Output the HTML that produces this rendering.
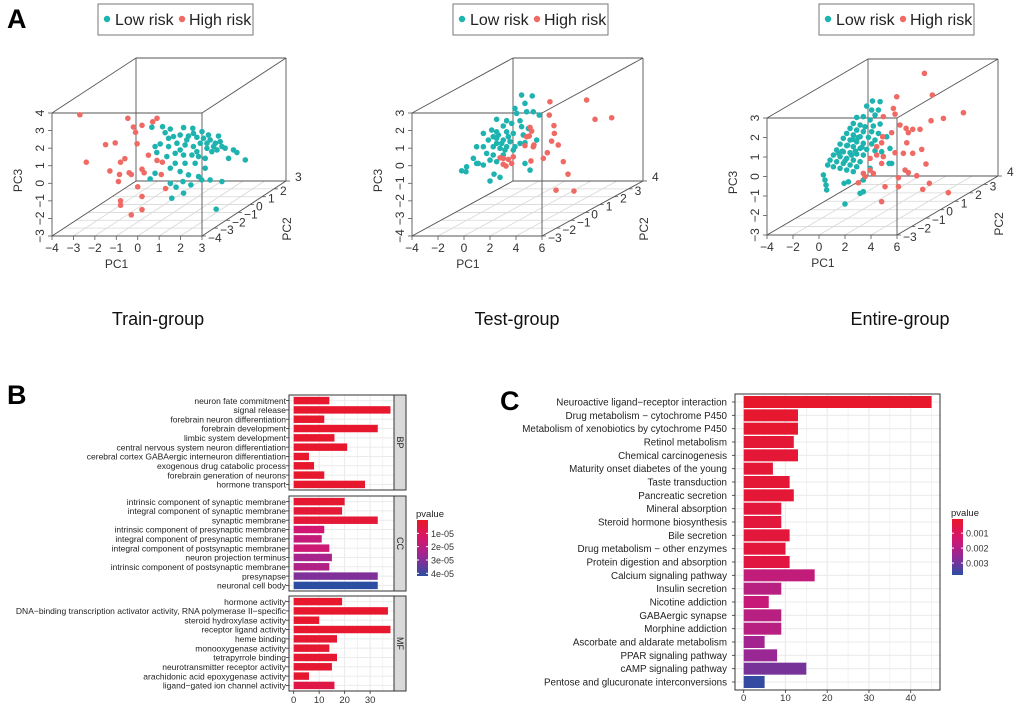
<!DOCTYPE html>
<html><head><meta charset="utf-8"><style>
html,body{margin:0;padding:0;background:#fff;}
svg{display:block;font-family:"Liberation Sans",Arial,sans-serif;}
</style></head><body>
<svg id="fig" width="1020" height="705" viewBox="0 0 1020 705" xmlns="http://www.w3.org/2000/svg"></svg>
<script>
// ---------- Panel A data (PC1, PC3 projected) ----------
const trainHigh = [[-2.7,3.9],[-0.46,3.7],[-0.2,3.2],[-0.1,2.9],[0.2,3.3],[0.7,3.5],[0.9,3.7],[-1.5,2.2],[-1.05,2.3],[-0.03,2.25],[-2.4,1.2],[-0.8,1.2],[-0.6,1.4],[0.5,1.6],[0.9,1.3],[1.15,1.2],[-1.3,0.7],[-0.85,0.5],[-0.4,0.6],[-0.3,0.5],[0.2,0.8],[0.3,0.6],[1.1,0.5],[-0.9,0.1],[0.0,-0.2],[1.3,-0.3],[0.2,-0.75],[-0.8,-1.0],[-0.8,-1.25],[0.2,-1.5],[-0.3,-1.8]];
const trainLow = [[0.66,3.19],[1.16,3.22],[1.52,3.09],[2.14,3.17],[2.57,3.13],[1.28,2.88],[1.67,2.66],[1.98,2.75],[2.37,2.69],[2.76,2.62],[3.0,2.94],[3.07,2.56],[3.38,2.47],[3.77,2.69],[3.85,2.37],[3.54,2.09],[3.23,1.99],[2.92,2.28],[2.6,2.09],[2.21,2.18],[1.83,2.28],[1.44,2.09],[0.81,2.09],[0.89,1.75],[1.36,1.52],[1.75,1.71],[2.14,1.61],[2.53,1.61],[2.84,1.52],[3.15,1.42],[3.7,1.9],[4.08,2.0],[4.24,1.42],[4.63,1.75],[5.02,1.33],[4.47,1.9],[3.46,1.8],[3.15,0.86],[2.68,1.14],[2.21,1.14],[1.75,1.14],[1.52,0.86],[1.98,0.67],[2.37,0.48],[2.84,0.38],[2.99,0.19],[3.38,0.19],[3.93,0.1],[0.58,0.25],[0.81,0.57],[1.52,0.0],[2.11,0.1],[2.48,-0.09],[1.79,-0.22],[2.14,-0.56],[1.59,-0.85],[3.66,-1.47],[1.05,2.24],[2.29,2.47],[3.23,2.28],[3.62,2.28],[3.93,2.09],[2.76,1.8],[1.98,1.9],[1.44,2.56],[2.6,2.84],[3.3,2.75]];
const testHigh = [[6.61,3.64],[9.43,3.74],[6.56,2.88],[6.92,2.28],[10.08,2.64],[11.36,2.73],[5.08,2.18],[5.2,1.97],[6.95,1.84],[5.02,1.69],[5.38,1.18],[6.74,1.4],[7.25,1.18],[6.41,0.74],[6.1,0.42],[5.15,0.27],[7.64,0.23],[8.0,-0.48],[7.08,-1.39],[8.46,-1.44],[2.77,0.45],[3.02,0.08],[3.41,0.36],[3.67,0.13],[3.02,0.42],[4.69,1.14],[4.82,1.65],[5.33,1.08],[3.79,0.51],[3.23,-0.02]];
const testLow = [[4.43,4.02],[5.25,3.97],[4.69,3.55],[3.92,3.26],[4.05,2.98],[4.82,3.07],[5.33,3.07],[5.79,2.88],[2.51,2.64],[3.28,2.56],[3.67,2.41],[3.02,2.26],[4.31,2.56],[4.43,2.22],[4.95,2.12],[2.13,2.03],[2.51,1.93],[3.28,1.93],[3.79,1.84],[4.56,1.75],[5.59,1.46],[1.49,1.84],[1.87,1.46],[2.51,1.56],[3.02,1.46],[3.54,1.37],[4.31,1.27],[4.69,1.31],[0.97,1.08],[1.49,1.08],[2.25,1.08],[2.77,0.99],[3.28,1.08],[3.79,0.89],[1.74,0.7],[2.25,0.61],[3.02,0.61],[0.72,0.42],[0.97,0.13],[1.49,0.04],[2.0,0.32],[2.51,0.23],[0.2,-0.06],[-0.18,-0.29],[0.15,-0.34],[1.1,0.13],[2.31,-0.48],[2.77,-0.66],[2.0,-0.87],[5.08,-0.25],[4.69,0.13],[2.64,1.75],[2.9,1.27],[3.41,1.65],[3.92,1.08],[2.25,1.65],[3.15,0.89],[2.51,1.27]];
const entireLow = [[4.11,3.87],[4.7,3.84],[3.67,3.61],[4.57,3.41],[4.05,3.41],[4.31,3.15],[2.9,3.03],[3.41,3.07],[3.93,2.9],[4.7,2.69],[2.64,2.72],[3.16,2.64],[3.54,2.55],[4.18,2.59],[2.39,2.47],[2.9,2.38],[3.41,2.3],[4.05,2.3],[4.57,2.21],[2.13,2.21],[2.64,2.13],[3.16,2.04],[3.8,2.01],[4.31,1.87],[1.87,1.96],[2.39,1.87],[2.9,1.78],[3.41,1.7],[4.05,1.67],[1.62,1.66],[2.13,1.58],[2.64,1.53],[3.16,1.44],[3.67,1.39],[4.31,1.32],[1.36,1.36],[1.87,1.27],[2.39,1.22],[2.9,1.15],[3.41,1.1],[1.11,1.1],[1.62,1.02],[2.13,0.93],[2.64,0.84],[3.16,0.76],[0.85,0.84],[1.36,0.76],[1.87,0.67],[2.39,0.59],[2.9,0.5],[0.67,0.59],[1.11,0.5],[1.62,0.42],[2.13,0.33],[2.64,0.25],[0.34,0.08],[0.46,-0.18],[0.54,-0.44],[0.59,-0.69],[1.93,-0.35],[2.26,-0.27],[3.16,-0.86],[3.41,-0.78],[2.0,-1.41],[5.46,1.44],[5.39,0.67],[5.59,0.67],[5.21,2.04],[4.82,1.27],[3.93,0.42],[3.41,-0.18],[2.2,1.6],[2.6,1.9],[3.0,2.0],[1.8,1.3],[2.5,1.1],[3.3,1.5],[2.0,0.8],[1.5,1.2],[2.8,1.3]];
const entireHigh = [[8.11,5.29],[8.72,4.18],[5.98,4.09],[11.11,3.27],[9.57,2.98],[8.62,2.86],[6.23,2.64],[6.7,2.47],[7.21,2.42],[7.77,2.42],[4.95,3.07],[5.72,3.49],[5.85,3.2],[5.59,2.25],[6.87,2.25],[4.9,2.04],[4.82,1.73],[6.75,1.73],[4.44,1.53],[7.9,1.39],[6.49,1.19],[5.85,1.22],[7.21,1.19],[4.95,1.02],[4.44,1.1],[8.23,0.64],[3.93,0.93],[4.82,0.67],[6.62,0.33],[6.87,0.2],[7.52,0.04],[3.93,0.33],[4.18,0.16],[3.41,0.16],[6.11,-0.06],[5.08,-0.52],[6.11,-0.52],[7.98,-0.66],[8.49,-0.35],[9.95,-0.83],[4.82,-1.29],[3.03,-0.32],[3.54,-0.01]];

// ---------- Panel B data ----------
const goBP = ["neuron fate commitment","signal release","forebrain neuron differentiation","forebrain development","limbic system development","central nervous system neuron differentiation","cerebral cortex GABAergic interneuron differentiation","exogenous drug catabolic process","forebrain generation of neurons","hormone transport"];
const goBPCount = [14,38,12,33,16,21,6,8,12,28];
const goBPp = [1e-6,1e-6,1e-6,1e-6,1e-6,1e-6,1e-6,1e-6,1e-6,1e-6];
const goCC = ["intrinsic component of synaptic membrane","integral component of synaptic membrane","synaptic membrane","intrinsic component of presynaptic membrane","integral component of presynaptic membrane","integral component of postsynaptic membrane","neuron projection terminus","intrinsic component of postsynaptic membrane","presynapse","neuronal cell body"];
const goCCCount = [20,19,33,12,11,14,15,14,33,33];
const goCCp = [2e-6,3e-6,3e-6,1.5e-5,1.8e-5,1.6e-5,2.4e-5,2.2e-5,3.1e-5,4.2e-5];
const goMF = ["hormone activity","DNA\u2212binding transcription activator activity, RNA polymerase II\u2212specific","steroid hydroxylase activity","receptor ligand activity","heme binding","monooxygenase activity","tetrapyrrole binding","neurotransmitter receptor activity","arachidonic acid epoxygenase activity","ligand\u2212gated ion channel activity"];
const goMFCount = [19,37,10,38,17,14,17,15,6,16];
const goMFp = [1e-6,1e-6,1e-6,1e-6,2e-6,2e-6,2e-6,2e-6,2e-6,6e-6];
const goTicks = [0,10,20,30];
const goLegendTicks = [1e-5,2e-5,3e-5,4e-5];
const goLegendLabels = ["1e-05","2e-05","3e-05","4e-05"];

// ---------- Panel C data ----------
const keggTerms = ["Neuroactive ligand\u2212receptor interaction","Drug metabolism \u2212 cytochrome P450","Metabolism of xenobiotics by cytochrome P450","Retinol metabolism","Chemical carcinogenesis","Maturity onset diabetes of the young","Taste transduction","Pancreatic secretion","Mineral absorption","Steroid hormone biosynthesis","Bile secretion","Drug metabolism \u2212 other enzymes","Protein digestion and absorption","Calcium signaling pathway","Insulin secretion","Nicotine addiction","GABAergic synapse","Morphine addiction","Ascorbate and aldarate metabolism","PPAR signaling pathway","cAMP signaling pathway","Pentose and glucuronate interconversions"];
const keggCount = [45,13,13,12,13,7,11,12,9,9,11,10,11,17,9,6,9,9,5,8,15,5];
const keggP = [0.0001,0.0002,0.0002,0.0003,0.0003,0.0003,0.0003,0.0003,0.0004,0.0004,0.0004,0.0004,0.0005,0.0017,0.0019,0.0016,0.0019,0.0019,0.0023,0.0025,0.0029,0.0037];
const keggTicks = [0,10,20,30,40];
const keggLegendTicks = [0.001,0.002,0.003];
const keggLegendLabels = ["0.001","0.002","0.003"];

const svg = document.getElementById('fig');
const NS = 'http://www.w3.org/2000/svg';
function mk(tag, attrs, parent){
  const e = document.createElementNS(NS, tag);
  for (const k in attrs) e.setAttribute(k, attrs[k]);
  (parent||svg).appendChild(e);
  return e;
}
function txt(s, attrs, parent){ const e = mk('text', attrs, parent); e.textContent = s; return e; }

const CYAN = '#1fb3b0', RED = '#ef6a64';

const stops = [[232,24,40],[214,22,110],[150,40,150],[43,78,162]];
function colorAt(t){
  t = Math.max(0, Math.min(1, t));
  const s = t*(stops.length-1); const i = Math.min(stops.length-2, Math.floor(s)); const f = s-i;
  const c = stops[i].map((v,k)=>Math.round(v+(stops[i+1][k]-v)*f));
  return 'rgb('+c.join(',')+')';
}

let t;
t = txt('A', {x:7, y:28, 'font-size':27, 'font-weight':'bold'});
 
t = txt('B', {x:7, y:404, 'font-size':27, 'font-weight':'bold'});
 
t = txt('C', {x:500, y:410, 'font-size':27, 'font-weight':'bold'});
 

function plot3d(cfg, low, high){
  const g = mk('g', {});
  
  
  const {x0,x1,yT,yB,dx,dy} = cfg;
  const sx = v => x0 + (v-cfg.xmin)/(cfg.xmax-cfg.xmin)*(x1-x0);
  const sy = v => yB - (v-cfg.ymin)/(cfg.ymax-cfg.ymin)*(yB-yT);
  const grid = '#d8d8d8', edge = '#555';
  const nz = cfg.zTicks.length-1;
  for (let k=0;k<=nz;k++){
    const f = k/nz;
    mk('line',{x1:x0+dx*f,y1:yB+dy*f,x2:x1+dx*f,y2:yB+dy*f,stroke:grid,'stroke-width':0.8},g);
  }
  cfg.xTicks.forEach(v=>{
    mk('line',{x1:sx(v),y1:yB,x2:sx(v)+dx,y2:yB+dy,stroke:grid,'stroke-width':0.8},g);
  });
  const box = [[x0,yT,x1,yT],[x0,yB,x1,yB],[x0,yT,x0,yB],[x1,yT,x1,yB],
    [x0+dx,yT+dy,x1+dx,yT+dy],[x0+dx,yB+dy,x1+dx,yB+dy],[x0+dx,yT+dy,x0+dx,yB+dy],[x1+dx,yT+dy,x1+dx,yB+dy],
    [x0,yT,x0+dx,yT+dy],[x1,yT,x1+dx,yT+dy],[x1,yB,x1+dx,yB+dy],[x0,yB,x0+dx,yB+dy]];
  box.forEach(b=>mk('line',{x1:b[0],y1:b[1],x2:b[2],y2:b[3],stroke:edge,'stroke-width':0.9},g));
  cfg.xTicks.forEach(v=>{
    mk('line',{x1:sx(v),y1:yB,x2:sx(v),y2:yB+4,stroke:edge,'stroke-width':0.8},g);
    const e = txt(String(v).replace('-','\u2212'),{x:sx(v),y:yB+16,'font-size':12,'text-anchor':'middle',fill:'#333'},g);
     
  });
  cfg.yTicks.forEach(v=>{
    mk('line',{x1:x0-4,y1:sy(v),x2:x0,y2:sy(v),stroke:edge,'stroke-width':0.8},g);
    const e = txt(String(v).replace('-','\u2212'),{x:x0-8,y:sy(v),'font-size':12,'text-anchor':'middle',fill:'#333',transform:'rotate(-90 '+(x0-8)+' '+sy(v)+')'},g);
     
  });
  cfg.zTicks.forEach((v,k)=>{
    const f = k/nz;
    const px = x1+dx*f, py = yB+dy*f;
    mk('line',{x1:px,y1:py,x2:px+4,y2:py,stroke:edge,'stroke-width':0.8},g);
    const e = txt(String(v).replace('-','\u2212'),{x:px+(k===nz?9:6),y:py+(k===nz?0:6),'font-size':12,fill:'#333'},g);
     
  });
  let e = txt('PC1',{x:x0+(x1-x0)*0.43,y:yB+32,'font-size':12,'text-anchor':'middle',fill:'#333'},g);
   
  const py3 = (yT+yB)/2+6;
  e = txt('PC3',{x:x0-30,y:py3,'font-size':12,'text-anchor':'middle',fill:'#333',transform:'rotate(-90 '+(x0-30)+' '+py3+')'},g);
   
  const p2x = x1+dx+5, p2y = yB+dy+48;
  e = txt('PC2',{x:p2x,y:p2y,'font-size':12,'text-anchor':'middle',fill:'#333',transform:'rotate(-90 '+p2x+' '+p2y+')'},g);
   
  low.forEach(p=>{
    const c = mk('circle',{cx:sx(p[0]),cy:sy(p[1]),r:2.8,fill:CYAN},g);
     
  });
  high.forEach(p=>{
    const c = mk('circle',{cx:sx(p[0]),cy:sy(p[1]),r:2.8,fill:RED},g);
     
  });
  const lg = mk('g',{},g);
   
  mk('rect',{x:cfg.lx,y:4,width:155,height:31,fill:'#fff',stroke:'#777','stroke-width':1},lg);
  mk('circle',{cx:cfg.lx+9,cy:19,r:3.2,fill:CYAN},lg);
  let le = txt('Low risk',{x:cfg.lx+17,y:25,'font-size':16,fill:'#222'},lg);
   
  mk('circle',{cx:cfg.lx+84,cy:19,r:3.2,fill:RED},lg);
  le = txt('High risk',{x:cfg.lx+91,y:25,'font-size':16,fill:'#222'},lg);
   
  e = txt(cfg.title,{x:cfg.tx,y:325,'font-size':18,'text-anchor':'middle',fill:'#111'},g);
   
}
plot3d({name:'train-3d-scatter',x0:52,x1:202,yT:113,yB:236,dx:84,dy:-55,xmin:-4,xmax:3,ymin:-3,ymax:4,
  xTicks:[-4,-3,-2,-1,0,1,2,3],yTicks:[-3,-2,-1,0,1,2,3,4],zTicks:[-4,-3,-2,-1,0,1,2,3],lx:98,title:'Train-group',tx:158},trainLow,trainHigh);
plot3d({name:'test-3d-scatter',x0:412,x1:542,yT:113,yB:236,dx:101,dy:-55,xmin:-4,xmax:6,ymin:-4,ymax:3,
  xTicks:[-4,-2,0,2,4,6],yTicks:[-4,-3,-2,-1,0,1,2,3],zTicks:[-3,-2,-1,0,1,2,3,4],lx:453,title:'Test-group',tx:517},testLow,testHigh);
plot3d({name:'entire-3d-scatter',x0:767,x1:897,yT:118,yB:235,dx:101,dy:-59,xmin:-4,xmax:6,ymin:-3,ymax:3,
  xTicks:[-4,-2,0,2,4,6],yTicks:[-3,-2,-1,0,1,2,3],zTicks:[-3,-2,-1,0,1,2,3,4],lx:819,title:'Entire-group',tx:900},entireLow,entireHigh);

(function(){
  const g = mk('g',{});
   
  const px0 = 289, px1 = 394, x0v = 293.7, k = 2.547;
  const sx = v => x0v + v*k;
  const pmax = 4.2e-5;
  const facets = [
    {name:'BP',labels:goBP,counts:goBPCount,p:goBPp,y0:395,y1:490},
    {name:'CC',labels:goCC,counts:goCCCount,p:goCCp,y0:496,y1:591},
    {name:'MF',labels:goMF,counts:goMFCount,p:goMFp,y0:596,y1:691}];
  facets.forEach(f=>{
    const fg = mk('g',{},g);
     
    mk('rect',{x:px0,y:f.y0,width:px1-px0,height:f.y1-f.y0,fill:'#fff'},fg);
    const n = f.labels.length, step = (f.y1-f.y0)/(n+0.2);
    for (let v=0; v<=40; v+=5){ if (sx(v)<px1) mk('line',{x1:sx(v),y1:f.y0,x2:sx(v),y2:f.y1,stroke:'#ebebeb','stroke-width':v%10===0?1.1:0.6},fg); }
    f.labels.forEach((lab,i)=>{
      const cy = f.y0 + step*(i+0.6);
      mk('line',{x1:px0,y1:cy,x2:px1,y2:cy,stroke:'#ebebeb','stroke-width':1},fg);
      const b = mk('rect',{x:sx(0),y:cy-step*0.4,width:sx(f.counts[i])-sx(0),height:step*0.8,fill:colorAt(f.p[i]/pmax)},fg);
       
      mk('line',{x1:px0-3,y1:cy,x2:px0,y2:cy,stroke:'#333','stroke-width':0.8},fg);
      const e = txt(lab,{x:px0-3,y:cy+3.2,'font-size':8.5,'text-anchor':'end',fill:'#222'},fg);
       
    });
    mk('rect',{x:px0,y:f.y0,width:px1-px0,height:f.y1-f.y0,fill:'none',stroke:'#333','stroke-width':1},fg);
    mk('rect',{x:px1,y:f.y0,width:12,height:f.y1-f.y0,fill:'#d9d9d9',stroke:'#333','stroke-width':1},fg);
    const cx = px1+6, cy = (f.y0+f.y1)/2;
    const e = txt(f.name,{x:cx,y:cy+3,'font-size':9,'text-anchor':'middle',fill:'#222',transform:'rotate(90 '+cx+' '+cy+')'},fg);
     
  });
  goTicks.forEach(v=>{
    mk('line',{x1:sx(v),y1:691,x2:sx(v),y2:694,stroke:'#333','stroke-width':0.8},g);
    const e = txt(String(v),{x:sx(v),y:703,'font-size':9.5,'text-anchor':'middle',fill:'#333'},g);
     
  });
  const lg = mk('g',{},g);
   
  txt('pvalue',{x:416,y:517,'font-size':9.5,fill:'#222'},lg);
  const ly0 = 520, ly1 = 576;
  const defs = mk('defs',{},lg);
  const gr = mk('linearGradient',{id:'gB',x1:0,y1:0,x2:0,y2:1},defs);
  for (let i=0;i<=10;i++) mk('stop',{offset:i/10,'stop-color':colorAt(i/10)},gr);
  mk('rect',{x:417,y:ly0,width:11,height:ly1-ly0,fill:'url(#gB)'},lg);
  goLegendTicks.forEach((v,i)=>{
    const y = ly0 + v/pmax*(ly1-ly0);
    mk('line',{x1:417,y1:y,x2:419,y2:y,stroke:'#fff'},lg); mk('line',{x1:426,y1:y,x2:428,y2:y,stroke:'#fff'},lg);
    const e = txt(goLegendLabels[i],{x:431,y:y+3.5,'font-size':9,fill:'#333'},lg);
     
  });
})();

(function(){
  const g = mk('g',{});
   
  const px0 = 735, px1 = 940, py0 = 394, py1 = 690, x0v = 743.7, k = 4.175;
  const sx = v => x0v + v*k;
  const pmin = 0.00005, pmax = 0.0038;
  mk('rect',{x:px0,y:py0,width:px1-px0,height:py1-py0,fill:'#fff'},g);
  for (let v=0; v<=45; v+=5) mk('line',{x1:sx(v),y1:py0,x2:sx(v),y2:py1,stroke:'#ebebeb','stroke-width':v%10===0?1.2:0.6},g);
  const n = keggTerms.length, step = (py1-py0)/(n+0.2);
  keggTerms.forEach((lab,i)=>{
    const cy = py0 + step*(i+0.6);
    mk('line',{x1:px0,y1:cy,x2:px1,y2:cy,stroke:'#ebebeb','stroke-width':1.1},g);
    const b = mk('rect',{x:sx(0),y:cy-step*0.45,width:sx(keggCount[i])-sx(0),height:step*0.9,fill:colorAt((keggP[i]-pmin)/(pmax-pmin))},g);
     
    mk('line',{x1:px0-3,y1:cy,x2:px0,y2:cy,stroke:'#333','stroke-width':0.8},g);
    const e = txt(lab,{x:px0-8,y:cy+3.5,'font-size':9.8,'text-anchor':'end',fill:'#222'},g);
     
  });
  mk('rect',{x:px0,y:py0,width:px1-px0,height:py1-py0,fill:'none',stroke:'#333','stroke-width':1},g);
  keggTicks.forEach(v=>{
    mk('line',{x1:sx(v),y1:py1,x2:sx(v),y2:py1+3,stroke:'#333','stroke-width':0.8},g);
    const e = txt(String(v),{x:sx(v),y:701,'font-size':9.5,'text-anchor':'middle',fill:'#333'},g);
     
  });
  const lg = mk('g',{},g);
   
  txt('pvalue',{x:951,y:516,'font-size':9.5,fill:'#222'},lg);
  const ly0 = 519, ly1 = 575;
  const defs = mk('defs',{},lg);
  const gr = mk('linearGradient',{id:'gC',x1:0,y1:0,x2:0,y2:1},defs);
  for (let i=0;i<=10;i++) mk('stop',{offset:i/10,'stop-color':colorAt(i/10)},gr);
  mk('rect',{x:952,y:ly0,width:11,height:ly1-ly0,fill:'url(#gC)'},lg);
  keggLegendTicks.forEach((v,i)=>{
    const y = ly0 + (v-pmin)/(pmax-pmin)*(ly1-ly0);
    mk('line',{x1:952,y1:y,x2:954,y2:y,stroke:'#fff'},lg); mk('line',{x1:961,y1:y,x2:963,y2:y,stroke:'#fff'},lg);
    const e = txt(keggLegendLabels[i],{x:966,y:y+3.5,'font-size':9,fill:'#333'},lg);
     
  });
})();
</script>
</body></html>
